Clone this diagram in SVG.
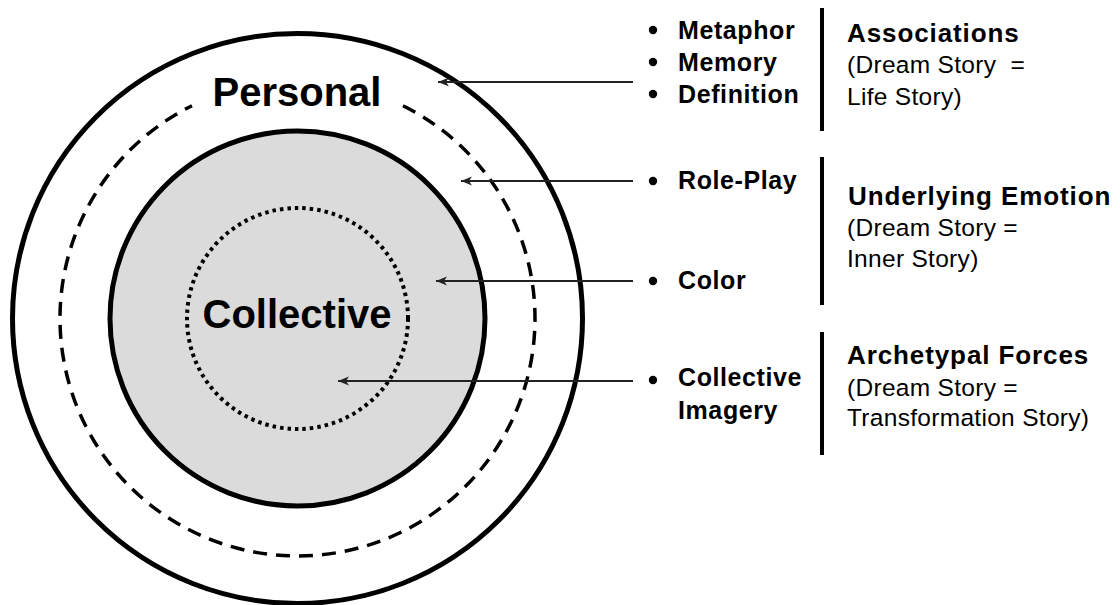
<svg xmlns="http://www.w3.org/2000/svg" width="1120" height="605" viewBox="0 0 1120 605">
  <defs>
    <style>
      .ring { fill: none; stroke: #000; }
      .big { font-family: "Liberation Sans", Arial, sans-serif; font-weight: bold; font-size: 40px; fill: #000; text-anchor: middle; }
      .item { font-family: "Liberation Sans", Arial, sans-serif; font-weight: bold; font-size: 25px; letter-spacing: 0.6px; fill: #000; }
      .head { font-family: "Liberation Sans", Arial, sans-serif; font-weight: bold; font-size: 26px; letter-spacing: 0.9px; fill: #000; }
      .sub { font-family: "Liberation Sans", Arial, sans-serif; font-size: 24.5px; letter-spacing: 0.3px; fill: #000; }
      .bar { stroke: #000; stroke-width: 4; }
      .dot { fill: #000; }
      .conn { stroke: #222; stroke-width: 2; fill: none; marker-end: url(#ah); }
    </style>
    <marker id="ah" markerUnits="userSpaceOnUse" markerWidth="12" markerHeight="10" refX="11" refY="5" orient="auto">
      <path d="M0,0.5 L11,5 L0,9.5 L3,5 Z" fill="#222"/>
    </marker>
  </defs>

  <rect width="1120" height="605" fill="#fff"/>

  <!-- concentric layers -->
  <g id="outer-ring">
    <circle class="ring" cx="297.5" cy="318.5" r="285" stroke-width="5"/>
  </g>
  <g id="personal-boundary">
    <path class="ring" d="M403,105.7 A237.5,237.5 0 1 1 192,105.7" stroke-width="3.5" stroke-dasharray="14 9"/>
  </g>
  <g id="collective-core">
    <circle cx="297.5" cy="318.5" r="187.5" fill="#dbdbdb" stroke="#000" stroke-width="5"/>
  </g>
  <g id="collective-inner">
    <circle class="ring" cx="297.5" cy="318.5" r="110.5" stroke-width="4" stroke-dasharray="3.5 4"/>
  </g>
  <g id="label-personal">
    <text class="big" x="297" y="106">Personal</text>
  </g>
  <g id="label-collective">
    <text class="big" x="297" y="328">Collective</text>
  </g>

  <!-- pointers from the technique lists to the layers -->
  <g id="connectors">
    <line class="conn" x1="633" y1="82" x2="438" y2="82"/>
    <line class="conn" x1="633" y1="181" x2="461" y2="181"/>
    <line class="conn" x1="633" y1="281" x2="436" y2="281"/>
    <line class="conn" x1="633" y1="381" x2="338" y2="381"/>
  </g>

  <!-- technique lists -->
  <g id="list-associations">
    <circle class="dot" cx="653" cy="30" r="4.2"/>
    <circle class="dot" cx="653" cy="62" r="4.2"/>
    <circle class="dot" cx="653" cy="94" r="4.2"/>
    <text class="item" x="678" y="39">Metaphor</text>
    <text class="item" x="678" y="71">Memory</text>
    <text class="item" x="678" y="103">Definition</text>
  </g>
  <g id="list-emotion">
    <circle class="dot" cx="653" cy="181" r="4.2"/>
    <circle class="dot" cx="653" cy="281" r="4.2"/>
    <text class="item" x="678" y="189">Role-Play</text>
    <text class="item" x="678" y="289">Color</text>
  </g>
  <g id="list-archetypal">
    <circle class="dot" cx="653" cy="380" r="4.2"/>
    <text class="item" x="678" y="386">Collective</text>
    <text class="item" x="678" y="419">Imagery</text>
  </g>

  <!-- story descriptions -->
  <g id="desc-associations">
    <line class="bar" x1="822" y1="8" x2="822" y2="131"/>
    <text class="head" x="847" y="42">Associations</text>
    <text class="sub" x="847" y="73">(Dream Story&#160; =</text>
    <text class="sub" x="847" y="105">Life Story)</text>
  </g>
  <g id="desc-emotion">
    <line class="bar" x1="822" y1="157" x2="822" y2="305"/>
    <text class="head" x="848" y="205">Underlying Emotion</text>
    <text class="sub" x="847" y="236">(Dream Story =</text>
    <text class="sub" x="847" y="267">Inner Story)</text>
  </g>
  <g id="desc-archetypal">
    <line class="bar" x1="822" y1="332" x2="822" y2="455"/>
    <text class="head" x="847" y="364">Archetypal Forces</text>
    <text class="sub" x="847" y="396">(Dream Story =</text>
    <text class="sub" x="847" y="426">Transformation Story)</text>
  </g>
</svg>
